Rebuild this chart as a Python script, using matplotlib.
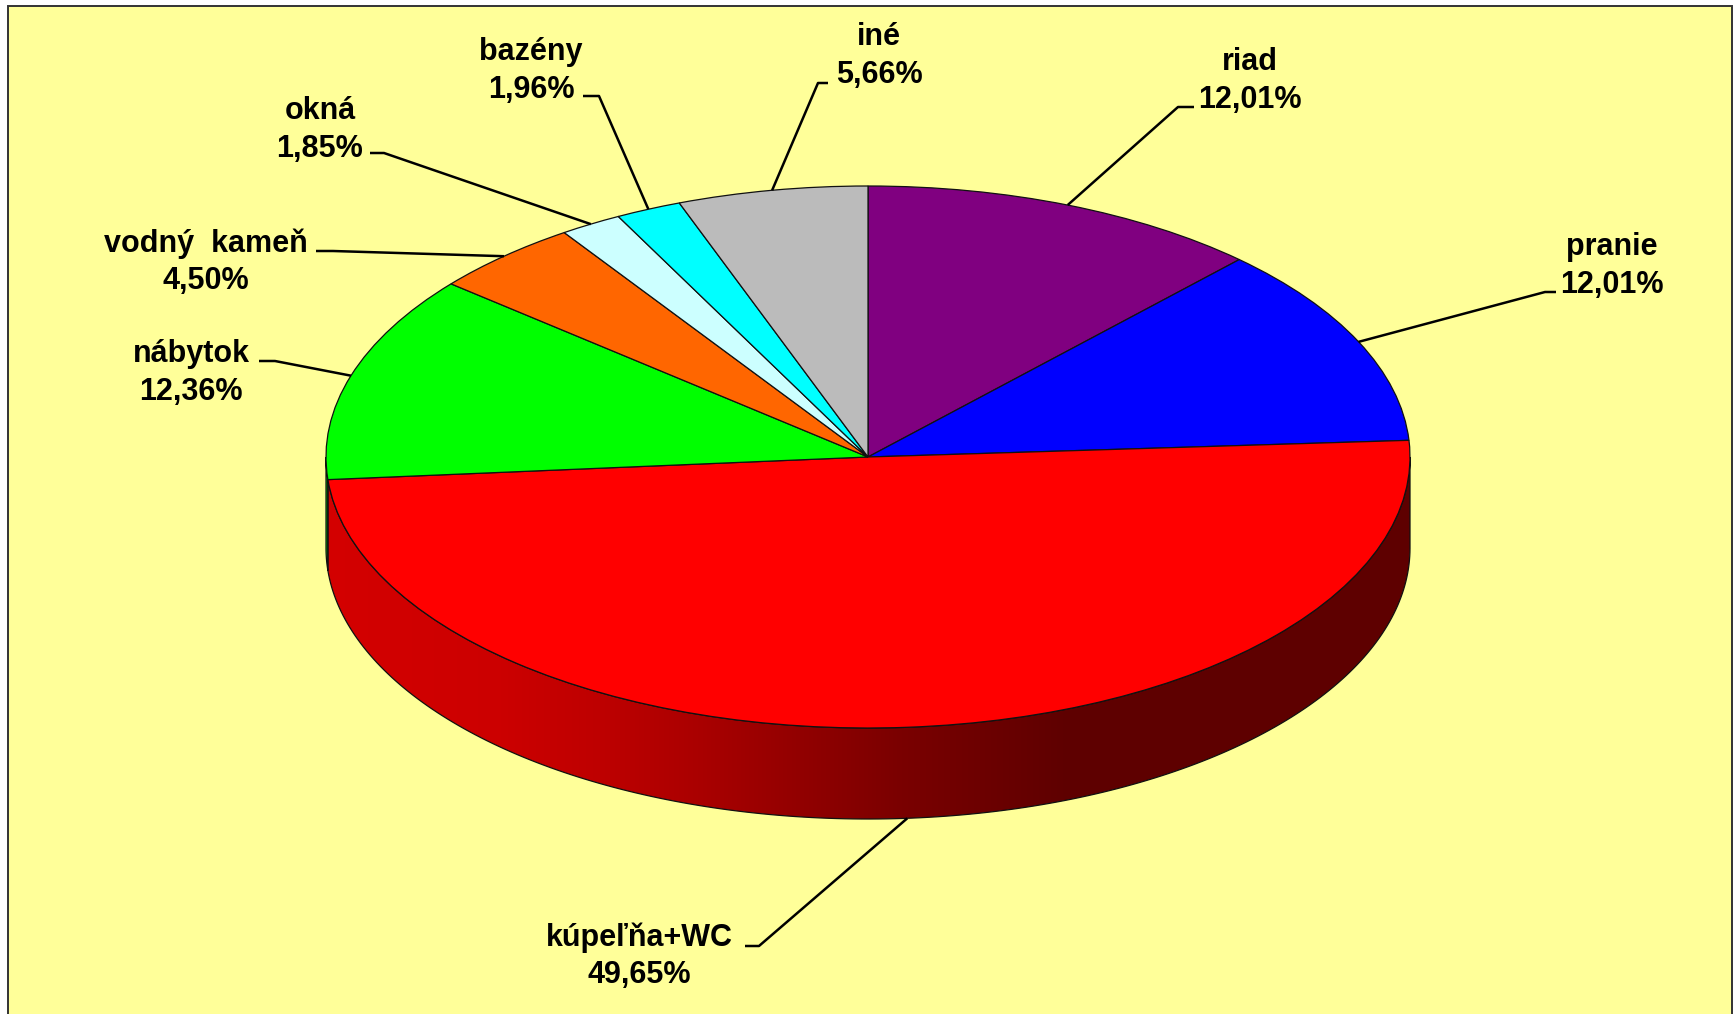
import numpy as np
import matplotlib
matplotlib.use("Agg")
import matplotlib.pyplot as plt
from matplotlib.patches import Polygon, Rectangle

labels = ["riad", "pranie", "kúpeľňa+WC", "nábytok", "vodný  kameň", "okná", "bazény", "iné"]
values = [12.01, 12.01, 49.65, 12.36, 4.50, 1.85, 1.96, 5.66]
colors = ["#800080", "#0000FF", "#FF0000", "#00FF00", "#FF6600", "#CCFFFF", "#00FFFF", "#BBBBBB"]

# layout in pixels of the picture
W, H = 1734, 1014
cx, cy, rx, ry = 868, 457, 542, 271
depth = 91 / ry
label_xy = [(1250, 81), (1612, 266), (639, 956), (191, 373), (206, 262), (320, 130), (531, 71), (879, 56)]
elbows = [[(1178, 107), (1194, 107)],
          [(1545, 292), (1556, 292)],
          [(759, 946), (745, 946)],
          [(275, 361), (259, 361)],
          [(333, 251), (316, 251)],
          [(384, 153), (370, 153)],
          [(599, 96), (583, 96)],
          [(818, 83), (828, 83)]]
# brightness of the side wall going left to right
shade_x = [330, 500, 600, 700, 900, 1067]
shade_v = [0.83, 0.80, 0.745, 0.665, 0.48, 0.37]


def px(x, y):
    return (x - cx) / rx, (cy - y) / ry


plt.rcParams["font.family"] = ["Liberation Sans", "DejaVu Sans"]
fig = plt.figure(figsize=(W / 100, H / 100), dpi=100, facecolor="white")
ax = fig.add_axes([0, 0, 1, 1])
ax.pie(values, colors=colors, startangle=90, counterclock=False, radius=1,
       wedgeprops=dict(edgecolor="#111111", linewidth=0.9, zorder=3))
ax.set_aspect("auto")

ax.add_patch(Rectangle(px(8, 1030), 1724 / rx, 1024 / ry, facecolor="#FFFF99",
                       edgecolor="#333333", linewidth=1.4, zorder=0))

# side wall, only the front half of the disc shows
ends = np.cumsum(values) / 100 * 360
starts = ends - np.array(values) / 100 * 360
for a0, a1, col in zip(starts, ends, colors):
    a0, a1 = max(a0, 90), min(a1, 270)
    if a1 <= a0:
        continue
    t = np.radians(np.linspace(a0, a1, 200))
    xs, ys = np.sin(t), np.cos(t)
    poly = np.vstack([np.column_stack([xs, ys]), np.column_stack([xs, ys - depth])[::-1]])
    shade = np.interp(np.linspace(cx - rx, cx + rx, 512), shade_x, shade_v)
    rgb = np.array(matplotlib.colors.to_rgb(col))
    im = ax.imshow((shade[None, :, None] * rgb[None, None, :]), extent=(-1, 1, -1.5, 1), aspect="auto", zorder=1)
    p = Polygon(poly, closed=True, facecolor="none", edgecolor="#111111", linewidth=0.9, zorder=2)
    ax.add_patch(p)
    im.set_clip_path(p)

# labels and leader lines
mids = np.radians((starts + ends) / 2)
for i, name in enumerate(labels):
    sx, sy = np.sin(mids[i]), np.cos(mids[i])
    if sy < 0:
        sy -= depth
    pts = [(sx, sy)] + [px(*e) for e in elbows[i]]
    ax.plot([q[0] for q in pts], [q[1] for q in pts], color="black", linewidth=1.8, zorder=4,
            solid_capstyle="butt")
    tx, ty = px(*label_xy[i])
    ax.text(tx, ty, name + "\n" + f"{values[i]:.2f}".replace(".", ",") + "%", ha="center", va="center",
            fontsize=22, fontweight="bold", color="black", linespacing=1.32, zorder=5)

ax.set_xlim(px(0, 0)[0], px(W, 0)[0])
ax.set_ylim(px(0, H)[1], px(0, 0)[1])
ax.axis("off")
fig.savefig("out.png", dpi=100, facecolor="white")
